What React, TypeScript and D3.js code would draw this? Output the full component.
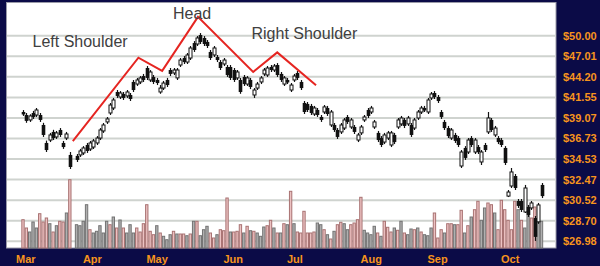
import React from 'react';
import * as d3 from 'd3';

const opens: (number | null)[] = [
  39.77,39.41,38.83,39.65,39.41,39.41,38.25,36.24,36.56,37.46,
  36.9,37.68,36.24,36.78,34.96,null,34.86,34.96,35.17,36.02,
  35.59,35.8,36.24,36.78,37.57,38.6,39.65,40.25,42.23,41.6,
  41.98,41.73,41.85,43.52,43.25,43.52,44.3,45.38,43.78,44.18,
  43.78,42.23,42.73,43.78,45.11,44.71,44.05,45.79,46.76,46.2,
  46.76,48.91,48.77,50.1,49.66,49.07,47.62,47.19,46.9,46.2,
  45.93,45.52,45.52,45.11,44.05,43.78,44.18,43.25,43.78,41.85,
  42.73,43.52,44.58,44.44,45.52,45.11,45.79,44.58,43.25,43.78,
  42.48,43.78,44.71,43.52,40.86,40.74,40.5,39.53,40.01,39.18,
  39.77,40.25,38.25,38.25,37.68,37.46,37.9,39.18,38.02,38.02,
  36.56,37.35,38.83,40.01,39.77,38.02,37.35,36.78,36.34,36.78,
  36.02,37.12,38.02,38.37,38.83,38.37,38.25,37.9,39.06,39.77,
  40.25,39.77,41.48,42.1,41.6,39.77,38.6,37.9,36.78,37.12,
  36.78,33.82,35.7,35.27,36.78,35.27,35.8,34.23,36.02,37.46,
  38.83,37.12,36.78,36.56,35.7,30.9,31.85,32.82,30.45,30.45,
  29.46,29.91,29.82,28.93,28.6,31.95,
];
const closes: (number | null)[] = [
  39.53,38.72,39.3,39.18,40.01,38.83,37.12,35.48,37.12,36.78,
  37.35,37.12,35.8,37.23,33.72,null,34.44,35.38,35.7,35.38,
  36.24,36.46,36.78,37.68,38.25,38.95,40.61,41.23,41.73,42.1,
  41.48,42.23,41.35,42.48,43.78,44.05,43.78,44.05,44.84,43.52,
  43.38,42.73,43.38,43.12,44.58,45.11,45.11,46.48,46.2,47.19,
  48.19,47.9,49.66,49.07,48.77,48.48,46.76,48.19,46.48,45.38,
  46.48,44.44,44.05,43.78,44.84,42.23,43.25,44.05,42.87,42.48,
  43.25,44.05,45.11,45.38,45.11,45.65,44.44,43.78,44.05,43.52,
  43.12,44.3,44.05,42.73,39.77,40.01,39.65,40.25,39.41,38.83,
  40.38,39.53,39.77,37.68,36.9,38.25,38.83,38.6,38.83,37.46,
  37.12,38.02,39.18,39.3,40.25,38.6,36.56,36.02,37.12,37.35,
  37.35,36.34,38.83,39.06,38.14,39.06,37.12,38.83,39.77,40.25,
  40.01,41.23,41.98,41.6,41.1,39.18,37.9,37.0,37.68,36.46,
  36.02,35.27,34.65,36.56,36.02,36.56,35.27,35.27,35.48,39.06,
  37.68,37.9,36.34,36.02,34.13,31.28,33.22,31.66,30.0,29.64,
  31.66,29.2,30.27,27.34,30.09,30.9,
];
const highs: (number | null)[] = [
  40.0,39.65,39.5,39.9,40.25,39.65,38.5,36.5,37.35,37.7,
  37.57,37.9,36.46,37.46,35.27,null,35.06,35.6,35.9,36.24,
  36.46,36.68,37.0,37.9,38.48,39.18,40.86,41.48,42.48,42.35,
  42.23,42.48,42.1,43.78,44.05,44.3,44.58,45.65,45.1,44.44,
  44.05,43.12,43.65,44.05,45.38,45.38,45.38,46.76,47.05,47.47,
  48.48,49.2,49.95,50.4,49.95,49.36,47.9,48.48,47.19,46.48,
  46.76,45.79,45.79,45.38,45.11,44.05,44.44,44.3,44.05,42.73,
  43.52,44.3,45.38,45.65,45.79,45.93,46.06,44.84,44.3,44.05,
  43.38,44.58,44.97,43.78,41.1,40.98,40.74,40.5,40.25,39.41,
  40.61,40.5,40.01,38.48,37.9,38.48,39.06,39.41,39.06,38.25,
  37.35,38.25,39.41,40.25,40.5,38.83,37.57,37.0,37.35,37.57,
  37.57,37.35,39.06,39.3,39.06,39.3,38.48,39.06,40.01,40.5,
  40.5,41.48,42.23,42.35,41.85,40.01,38.83,38.14,37.9,37.35,
  37.0,35.48,35.9,36.78,37.0,36.78,36.02,35.48,36.24,39.77,
  39.06,38.14,37.0,36.78,35.9,31.47,33.62,33.02,30.63,30.63,
  31.95,30.09,30.45,29.11,30.27,32.14,
];
const lows: (number | null)[] = [
  39.3,38.5,38.6,38.95,39.18,38.6,36.9,35.27,36.34,36.56,
  36.68,36.9,35.6,36.56,33.52,null,34.23,34.75,34.96,35.17,
  35.38,35.59,36.02,36.56,37.35,38.37,39.41,40.0,41.48,41.35,
  41.23,41.48,41.1,42.23,43.0,43.25,43.52,43.78,43.52,43.25,
  43.12,42.0,42.48,42.87,44.3,44.44,43.78,45.52,45.93,45.93,
  46.48,47.62,48.48,48.77,48.48,48.19,46.48,46.9,46.2,45.11,
  45.65,44.18,43.78,43.52,43.78,42.0,43.0,43.0,42.6,41.48,
  42.48,43.25,44.3,44.18,44.84,44.84,44.18,43.52,43.0,43.25,
  42.23,43.52,43.78,42.48,39.53,39.77,39.41,39.3,39.18,38.6,
  39.53,39.3,38.02,37.46,36.68,37.23,37.68,38.37,37.8,37.23,
  36.34,37.12,38.6,39.06,39.53,37.8,36.34,35.8,36.12,36.56,
  35.8,36.12,37.8,38.14,37.9,38.14,36.9,37.68,38.83,39.53,
  39.77,39.53,41.23,41.35,40.86,38.95,37.68,36.78,36.56,36.24,
  35.8,33.62,34.44,35.06,35.8,35.06,35.06,33.92,35.27,37.23,
  37.46,36.9,36.12,35.8,33.92,30.81,31.66,31.47,29.82,29.46,
  29.37,29.02,29.64,27.01,28.43,30.72,
];
// volume in millions
const volumes: number[] = [
  2.83,2.0,1.6,2.6,2.0,3.43,2.6,3.0,2.43,1.6,
  2.23,2.67,2.6,3.5,6.83,0,2.33,2.23,2.67,4.33,
  1.83,1.5,1.67,2.23,1.5,2.67,2.33,3.1,2.0,2.8,
  2.0,1.5,2.33,1.5,2.0,1.6,2.43,4.33,1.67,1.33,
  2.23,1.5,1.17,0.83,1.33,1.67,1.4,1.4,1.4,1.23,
  1.4,2.67,2.67,1.23,1.83,2.17,1.5,1.0,1.33,1.83,
  1.73,5.0,1.6,1.6,1.67,2.33,1.5,2.17,1.73,1.67,
  1.5,1.17,2.1,2.23,2.77,2.0,1.5,1.5,2.43,2.33,
  5.67,2.43,1.6,1.5,3.67,1.5,1.5,1.6,2.5,2.33,
  1.83,1.33,0.9,1.67,2.33,2.57,2.43,1.83,2.33,2.5,
  2.83,5.07,1.77,1.5,1.33,2.17,1.5,1.17,2.67,2.07,
  1.6,2.0,1.77,2.67,1.5,1.33,1.9,1.83,2.0,1.6,
  1.33,1.23,2.0,3.5,1.0,1.83,1.5,2.43,2.43,2.33,
  2.33,3.77,1.5,2.23,3.1,3.83,4.67,2.77,4.0,4.5,
  4.33,3.5,1.83,4.77,3.83,2.77,1.83,4.67,3.83,2.77,
  2.0,4.0,3.0,4.1,2.77,2.67,
];
// 1 = pink (down-volume), 0 = gray
const volumeDown: number[] = [
  1,1,0,0,0,1,1,1,0,1,
  0,1,1,0,1,0,0,0,0,0,
  1,0,0,0,0,0,1,0,1,0,
  1,0,0,0,1,1,1,1,1,1,
  0,1,0,0,0,1,0,1,1,0,
  1,0,1,0,0,0,1,1,0,1,
  1,1,0,1,1,1,0,1,0,1,
  0,0,0,1,1,0,1,0,1,0,
  1,0,1,1,1,1,1,1,0,0,
  1,0,1,0,1,1,0,0,1,1,
  1,1,0,0,0,0,1,0,1,1,
  1,0,1,0,1,0,0,1,0,1,
  0,0,0,1,1,1,0,1,1,0,
  1,1,0,1,0,1,1,0,0,1,
  1,0,1,1,1,1,1,1,0,1,
  0,0,1,1,0,0,
];
const priceTicks = [50.0, 47.01, 44.2, 41.55, 39.07, 36.73, 34.53, 32.47, 30.52, 28.7, 26.98];
const monthLabels = ['Mar', 'Apr', 'May', 'Jun', 'Jul', 'Aug', 'Sep', 'Oct'];
const monthStartIndex = [0, 20, 39, 62, 81, 103, 123, 145];
// head & shoulders trace: [day index, price]
const patternDays = [14.9, 34.5, 41.6, 52.3, 68.8, 76, 87.6];
const patternPrices = [36.45, 46.8, 45.0, 52.9, 44.85, 47.56, 43.1];

const NAVY = '#0b0b47';
const ORANGE = '#f7941d';

export default function App() {
  const n = opens.length;
  const x = d3.scaleLinear().domain([0, n - 1]).range([23, 541.5]);
  const y = d3.scaleLog().domain([26.98, 50]).range([241.3, 35.7]);
  const v = d3.scaleLinear().domain([0, 7]).range([248, 178]);
  const line = d3
    .line<number>()
    .x((d) => x(d))
    .y((_, i) => y(patternPrices[i]));

  const bw = x(1) - x(0);

  return (
    <div style={{ position: 'fixed', left: 0, top: 0 }}>
      <svg width={600} height={266} style={{ display: 'block' }}>
        <rect x={0} y={0} width={600} height={266} fill={NAVY} />
        <rect x={6.5} y={2.5} width={549.5} height={245.5} fill="#ffffff" stroke="#9a9aa8" strokeWidth={1} />
        {priceTicks.map((t) => (
          <line key={'g' + t} x1={7} x2={555.5} y1={y(t)} y2={y(t)} stroke="#cfd3cf" strokeWidth={2} />
        ))}
        {volumes.map((vol, i) =>
          vol > 0 ? (
            <rect
              key={'v' + i}
              x={x(i) - bw / 2 + 0.5}
              y={v(vol)}
              width={bw - 1}
              height={248 - v(vol)}
              fill={volumeDown[i] ? '#ecc2c2' : '#b0b0b0'}
              stroke={volumeDown[i] ? '#a87272' : '#737373'}
              strokeWidth={1}
            />
          ) : null
        )}
        {opens.map((o, i) => {
          const c = closes[i];
          const h = highs[i];
          const l = lows[i];
          if (o == null || c == null || h == null || l == null) return null;
          const cx = Math.round(x(i)) + 0.5;
          const up = c >= o;
          const top = y(Math.max(o, c));
          const bot = y(Math.min(o, c));
          return (
            <g key={'c' + i}>
              <line x1={cx} x2={cx} y1={y(h)} y2={y(l)} stroke="#111" strokeWidth={1.2} />
              {up ? (
                <rect x={cx - 1.5} y={top} width={3} height={Math.max(bot - top, 2)} fill="#fff" stroke="#111" strokeWidth={1} />
              ) : (
                <rect x={cx - 1.8} y={top} width={3.6} height={Math.max(bot - top, 2.5)} fill="#111" />
              )}
            </g>
          );
        })}
        <path d={line(patternDays) || ''} fill="none" stroke="#e52521" strokeWidth={2} />
        <g fontFamily="'Liberation Sans', Arial, sans-serif" fontSize={16} fill="#404040">
          <text x={32.5} y={46.5}>Left Shoulder</text>
          <text x={173} y={18.5}>Head</text>
          <text x={251.5} y={38.5}>Right Shoulder</text>
        </g>
        <g fontFamily="'Liberation Sans', Arial, sans-serif" fontSize={11} fontWeight="bold" fill={ORANGE}>
          {priceTicks.map((t) => (
            <text key={'t' + t} x={563} y={y(t) + 4}>
              {'$' + t.toFixed(2)}
            </text>
          ))}
          {monthLabels.map((m, i) => (
            <text key={m} x={x(monthStartIndex[i]) - 7} y={262.5}>
              {m}
            </text>
          ))}
        </g>
      </svg>
    </div>
  );
}
